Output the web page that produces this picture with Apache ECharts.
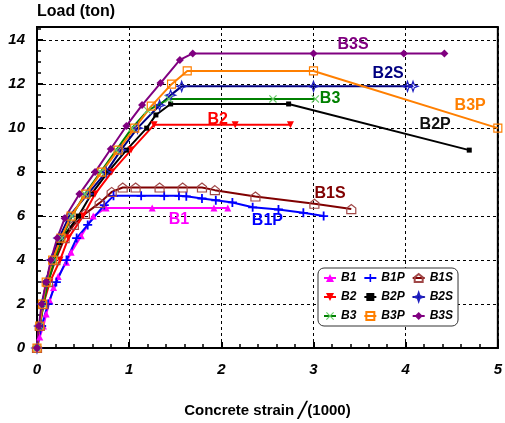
<!DOCTYPE html>
<html>
  <head>
    <title>Load vs concrete strain</title>
    <style>
      html, body {
        margin: 0;
        padding: 0;
        width: 100%;
        height: 100%;
        background: #fff;
      }
      #chart {
        width: 505px;
        height: 423px;
      }
    </style>
  </head>
  <body>
    <div id="chart"></div>
    <script src="https://cdn.jsdelivr.net/npm/echarts@6/dist/echarts.min.js"></script>
    <script type="text/javascript">

      // [strain/1000, load ton]
      const b1 = [[0,0],[0.03,0.5],[0.07,1],[0.1,1.55],[0.14,2.15],[0.18,2.75],[0.23,3.25],[0.32,3.9],[0.37,4.35],[0.48,5.1],[0.61,6.0],[0.75,6.37],[1.25,6.37],[1.92,6.37],[2.07,6.37]];
      const b1p = [[0,0],[0.05,1],[0.12,2],[0.21,3],[0.32,4],[0.43,5],[0.55,5.6],[0.73,6.5],[0.83,6.92],[1.13,6.92],[1.38,6.92],[1.54,6.92],[1.62,6.9],[1.79,6.8],[1.94,6.72],[2.12,6.62],[2.34,6.4],[2.62,6.3],[2.89,6.15],[3.11,6.0]];
      const b1s = [[0,0],[0.03,1],[0.07,2],[0.12,3],[0.2,4],[0.3,5],[0.4,5.6],[0.52,6.1],[0.68,6.6],[0.81,7.1],[0.93,7.3],[1.07,7.3],[1.33,7.3],[1.58,7.3],[1.79,7.3],[1.93,7.18],[2.37,6.89],[3.01,6.56],[3.41,6.32]];
      const b2 = [[0,0],[0.025,1],[0.07,2],[0.14,3],[0.25,4],[0.34,5],[0.5,6],[0.63,7],[0.81,8],[1.02,9],[1.27,10.15],[2.15,10.15],[2.75,10.15]];
      const b2p = [[0,0],[0.03,1],[0.06,2],[0.1,3],[0.16,4],[0.24,4.8],[0.45,6],[0.59,7],[0.77,8],[0.97,9],[1.19,10],[1.29,10.6],[1.45,11.1],[2.73,11.1],[4.69,9.0]];
      const b2s = [[0,0],[0.03,1],[0.06,2],[0.1,3],[0.16,4],[0.24,5],[0.35,6],[0.55,7],[0.75,8],[0.91,9],[1.09,10],[1.33,11.04],[1.45,11.5],[1.57,11.9],[3.0,11.9],[4.02,11.9],[4.08,11.9]];
      const b3 = [[0,0],[0.03,1],[0.07,2],[0.12,3],[0.19,4],[0.27,5],[0.38,6],[0.52,7],[0.69,8],[0.86,9],[1.03,10],[1.2,10.8],[1.43,11.33],[2.56,11.33],[3.02,11.33]];
      const b3p = [[0,0],[0.03,1],[0.06,2],[0.1,3],[0.17,4],[0.26,5],[0.37,6],[0.53,7],[0.7,8],[0.88,9],[1.06,10],[1.24,11],[1.46,12],[1.63,12.6],[3.0,12.6],[5.0,10.0]];
      const b3s = [[0,0],[0.02,1],[0.05,2],[0.1,3],[0.15,4],[0.22,5],[0.3,5.9],[0.46,7],[0.63,8],[0.8,9.05],[0.97,10.1],[1.14,11.05],[1.34,12.05],[1.55,13.1],[1.69,13.4],[3.0,13.4],[3.98,13.4],[4.42,13.4]];

      const names = ['B1', 'B1P', 'B1S', 'B2', 'B2P', 'B2S', 'B3', 'B3P', 'B3S'];
      // where each curve's name is written inside the plot
      const labelAt = [[1.54,5.85],[2.5,5.78],[3.18,7.04],[1.96,10.41],[4.32,10.15],[3.81,12.49],[3.18,11.36],[4.7,11.04],[3.43,13.82]];

      const xTicks = [0, 1, 2, 3, 4, 5];
      const yTicks = [0, 2, 4, 6, 8, 10, 12, 14];

      const PLUS = 'path://M4,0H6V10H4Z M0,4H10V6H0Z';
      const CROSS = 'path://M0,1L1,0L10,9L9,10Z M9,0L10,1L1,10L0,9Z';
      const HOUSE = 'path://M5,0L10,4L10,10L0,10L0,4Z';
      const STAR = 'path://M5,0L6.3,3.7L10,5L6.3,6.3L5,10L3.7,6.3L0,5L3.7,3.7Z';
      const clear = 'rgba(255,255,255,0)';
      const FONT = 'Arial, "Liberation Sans", sans-serif';

      const looks = [
        { data: b1, line: '#ff00ff', symbol: 'triangle', size: 7, fill: '#ff00ff' },
        { data: b1p, line: '#0000ff', symbol: PLUS, size: 9, fill: '#0000ff' },
        { data: b1s, line: '#800000', symbol: HOUSE, size: 9, fill: clear, border: '#a04848' },
        { data: b2, line: '#ff0000', symbol: 'triangle', size: 7, fill: '#ff0000', rotate: 180 },
        { data: b2p, line: '#000000', symbol: 'rect', size: 5, fill: '#000000' },
        { data: b2s, line: '#000080', symbol: STAR, size: 10, fill: clear, border: '#2020c0' },
        { data: b3, line: '#008000', symbol: CROSS, size: 8, fill: '#66cc66' },
        { data: b3p, line: '#ff7f00', symbol: 'rect', size: 8, fill: clear, border: '#ff7f00' },
        { data: b3s, line: '#800080', symbol: 'diamond', size: 8, fill: '#800080' }
      ];

      const buildSeries = () => looks.map((s, i) => ({
        name: names[i],
        type: 'line',
        data: s.data,
        color: s.line,
        symbol: s.symbol,
        symbolSize: s.size,
        symbolRotate: s.rotate || 0,
        showAllSymbol: true,
        lineStyle: { color: s.line, width: 2 },
        itemStyle: {
          color: s.fill,
          borderColor: s.border || s.fill,
          borderWidth: s.border ? 1.2 : 0
        },
        emphasis: { disabled: true },
        markPoint: {
          symbol: 'circle',
          symbolSize: 0,
          silent: true,
          label: {
            show: true,
            position: 'inside',
            formatter: names[i],
            color: s.line === '#000000' ? '#111' : s.line,
            fontFamily: FONT,
            fontWeight: 'bold',
            fontSize: 16
          },
          data: [{ coord: labelAt[i] }]
        }
      }));

      const initChart = () => {
        const chart = echarts.init(document.getElementById('chart'));
        const axisFont = {
          fontFamily: FONT,
          fontWeight: 'bold',
          fontStyle: 'italic',
          fontSize: 15,
          color: '#000'
        };
        chart.setOption({
          animation: false,
          grid: {
            left: 37, right: 5, top: 27, bottom: 68,
            show: true, borderColor: '#000', borderWidth: 2
          },
          legend: {
            data: names,
            left: 318,
            top: 268,
            width: 150,
            padding: [4, 5],
            itemWidth: 12,
            itemHeight: 10,
            itemGap: 7,
            borderColor: '#333',
            borderWidth: 1,
            borderRadius: 6,
            backgroundColor: '#fff',
            textStyle: {
              fontFamily: FONT,
              fontWeight: 'bold',
              fontStyle: 'italic',
              fontSize: 12,
              color: '#000'
            }
          },
          xAxis: {
            type: 'value',
            min: xTicks[0],
            max: xTicks[xTicks.length - 1],
            interval: xTicks[1] - xTicks[0],
            name: 'Concrete strain ╱(1000)',
            nameLocation: 'middle',
            nameGap: 55,
            nameTextStyle: {
              fontFamily: FONT,
              fontWeight: 'bold',
              fontSize: 15,
              color: '#000'
            },
            axisLine: { lineStyle: { color: '#000', width: 2 } },
            axisTick: { inside: true, length: 6, lineStyle: { color: '#000', width: 2 } },
            minorTick: { show: true, splitNumber: 5, length: 4, lineStyle: { color: '#000', width: 1.5 } },
            axisLabel: Object.assign({ margin: 14 }, axisFont),
            splitLine: { lineStyle: { color: '#000', type: [3, 3], width: 1 } }
          },
          yAxis: {
            type: 'value',
            min: yTicks[0],
            max: 14.6,
            interval: yTicks[1] - yTicks[0],
            name: 'Load (ton)',
            nameLocation: 'end',
            nameGap: 7,
            nameTextStyle: {
              fontFamily: FONT,
              fontWeight: 'bold',
              fontSize: 16,
              color: '#000',
              align: 'left',
              verticalAlign: 'bottom'
            },
            axisLine: { lineStyle: { color: '#000', width: 2 } },
            axisTick: { inside: true, length: 6, lineStyle: { color: '#000', width: 2 } },
            minorTick: { show: true, splitNumber: 4, length: 4, lineStyle: { color: '#000', width: 1.5 } },
            axisLabel: Object.assign({ margin: 12, showMaxLabel: false }, axisFont),
            splitLine: { lineStyle: { color: '#000', type: [3, 3], width: 1 } }
          },
          series: buildSeries()
        });
      };

      document.addEventListener('DOMContentLoaded', initChart);
    </script>
  </body>
</html>
